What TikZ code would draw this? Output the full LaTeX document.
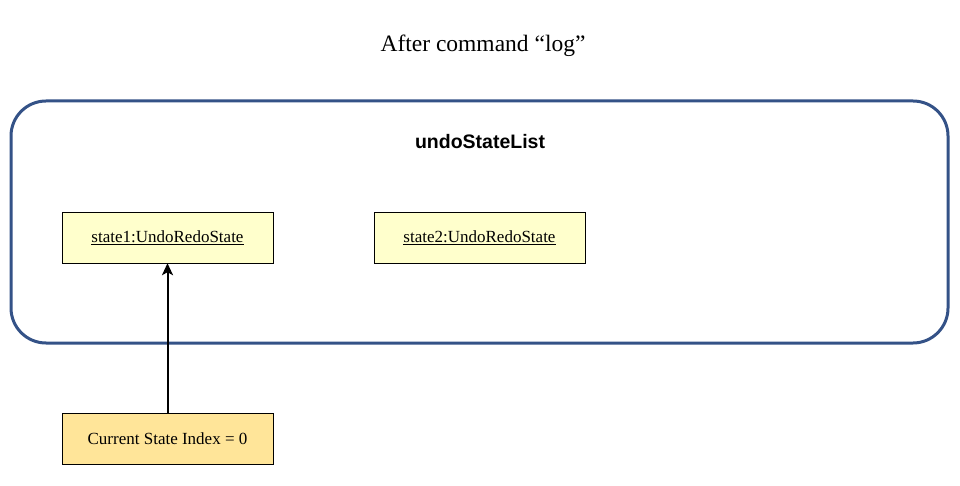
\documentclass[tikz,border=0pt]{standalone}
\usepackage{fontspec}
\setmainfont{Liberation Serif}
\setsansfont{Liberation Sans}
\usetikzlibrary{arrows.meta}
\usetikzlibrary{positioning}

\definecolor{listblue}{RGB}{52,82,135}
\definecolor{stateyellow}{RGB}{255,255,204}
\definecolor{indexyellow}{RGB}{255,229,153}

\begin{document}
\begin{tikzpicture}[x=1pt, y=-1pt, >={Stealth[length=12pt, width=11pt, inset=3pt]}]
    \tikzset{
        statebox/.style={draw=black, fill=stateyellow, minimum width=211pt, minimum height=51pt, font=\fontsize{17}{20}\selectfont},
        indexbox/.style={statebox, fill=indexyellow}
    }
    \useasboundingbox (0,0) rectangle (960,486);

    \node (title) at (483,46) {\fontsize{23.5}{28}\selectfont After command ``log''};

    % the list
    \draw [listblue, line width=3pt, rounded corners=35pt] (11,101) rectangle (948,343);
    \node (list) at (480,142) {\fontsize{19.5}{23}\selectfont\sffamily\bfseries undoStateList};

    \node [statebox] (state1) at (167.5,237.5) {\underline{state1:UndoRedoState}};
    \node [statebox] (state2) at (479.5,237.5) {\underline{state2:UndoRedoState}};

    \node [indexbox] (index) at (167.5,438.5) {Current State Index = 0};
    \draw [->, line width=2pt] (index) -- (state1);
\end{tikzpicture}
\end{document}
